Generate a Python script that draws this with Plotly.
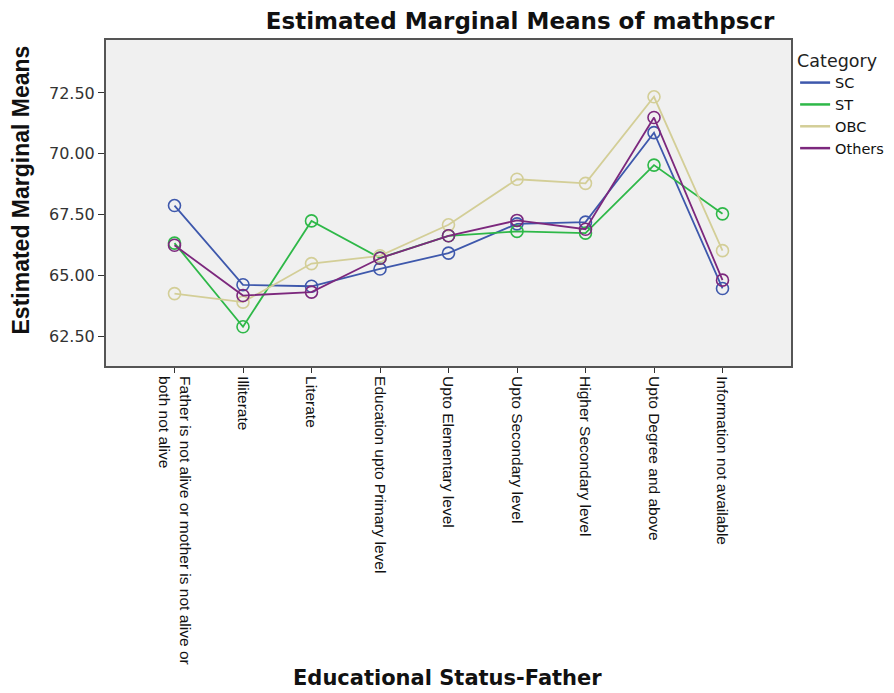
import plotly.graph_objects as go

categories = [
    "Father is not alive or mother is not alive or<br>both not alive",
    "Illiterate",
    "Literate",
    "Education upto Primary level",
    "Upto Elementary level",
    "Upto Secondary level",
    "Higher Secondary level",
    "Upto Degree and above",
    "Information not available",
]
series_names = ["SC", "ST", "OBC", "Others"]
sc = [67.88, 64.63, 64.57, 65.28, 65.93, 67.13, 67.20, 70.87, 64.48]
st = [66.34, 62.91, 67.25, 65.73, 66.64, 66.82, 66.75, 69.54, 67.54]
obc = [64.27, 63.92, 65.50, 65.82, 67.09, 68.96, 68.79, 72.34, 66.03]
others = [66.25, 64.19, 64.33, 65.72, 66.64, 67.27, 66.91, 71.49, 64.82]
y_ticks = [62.5, 65.0, 67.5, 70.0, 72.5]

colors = ["#3E58AC", "#2EB848", "#D3CE97", "#7C287D"]
ARIAL = "Liberation Sans, Arial, sans-serif"
WIDE = "DejaVu Sans, Verdana, sans-serif"

fig = go.Figure()
xs = list(range(len(categories)))
for name, vals, col in zip(series_names, [sc, st, obc, others], colors):
    fig.add_trace(go.Scatter(
        x=xs, y=vals, name=name, mode="lines+markers", showlegend=False,
        line=dict(color=col, width=1.8),
        marker=dict(symbol="circle-open", size=12, color=col, line=dict(width=1.6, color=col)),
    ))
# legend entries (line samples only, as in the reference)
for name, col in zip(series_names, colors):
    fig.add_trace(go.Scatter(x=[None], y=[None], name=name, mode="lines",
                             line=dict(color=col, width=2.5), showlegend=True))

fig.update_layout(
    width=886, height=685,
    margin=dict(l=98, r=103, t=32, b=327, autoexpand=False),
    paper_bgcolor="white", plot_bgcolor="#F0F0F0",
    font=dict(family=ARIAL, color="#222"),
    title=dict(text="<b>Estimated Marginal Means of mathpscr</b>", x=0.578, xanchor="center",
               y=0.981, yanchor="middle", yref="container",
               font=dict(family=WIDE, size=23, color="#111")),
    legend=dict(title=dict(text="Category", font=dict(family=WIDE, size=17.5, color="#222")),
                x=1.006, xanchor="left", y=0.988, yanchor="top",
                font=dict(family=WIDE, size=14.5, color="#111"), bgcolor="rgba(0,0,0,0)",
                itemwidth=30, tracegroupgap=0),
    showlegend=True,
)
fig.update_xaxes(
    tickmode="array", tickvals=xs, ticktext=categories, tickangle=90,
    range=[-1, 9], showgrid=False, zeroline=False, automargin=False,
    showline=True, linecolor="#555", linewidth=2, mirror=True,
    ticks="outside", ticklen=5, tickcolor="#333",
    tickfont=dict(family=ARIAL, size=15.5, color="#111"),
)
fig.update_yaxes(
    tickmode="array", tickvals=y_ticks, ticktext=[f"{v:.2f}" for v in y_ticks],
    range=[61.30, 74.67], showgrid=False, zeroline=False, automargin=False,
    showline=True, linecolor="#555", linewidth=2, mirror=True,
    ticks="outside", ticklen=6, tickcolor="#333",
    tickfont=dict(family=WIDE, size=16, color="#333"),
)
fig.add_annotation(text="<b>Estimated Marginal Means</b>", textangle=-90,
                   xref="paper", yref="paper", x=-0.1248, y=0.540,
                   xanchor="center", yanchor="middle",
                   showarrow=False, font=dict(family=ARIAL, size=23, color="#111"))
fig.add_annotation(text="<b>Educational Status-Father</b>",
                   xref="paper", yref="paper", x=0.499, y=-0.956,
                   xanchor="center", yanchor="middle",
                   showarrow=False, font=dict(family=WIDE, size=21, color="#111"))

fig.write_html("out.html")
